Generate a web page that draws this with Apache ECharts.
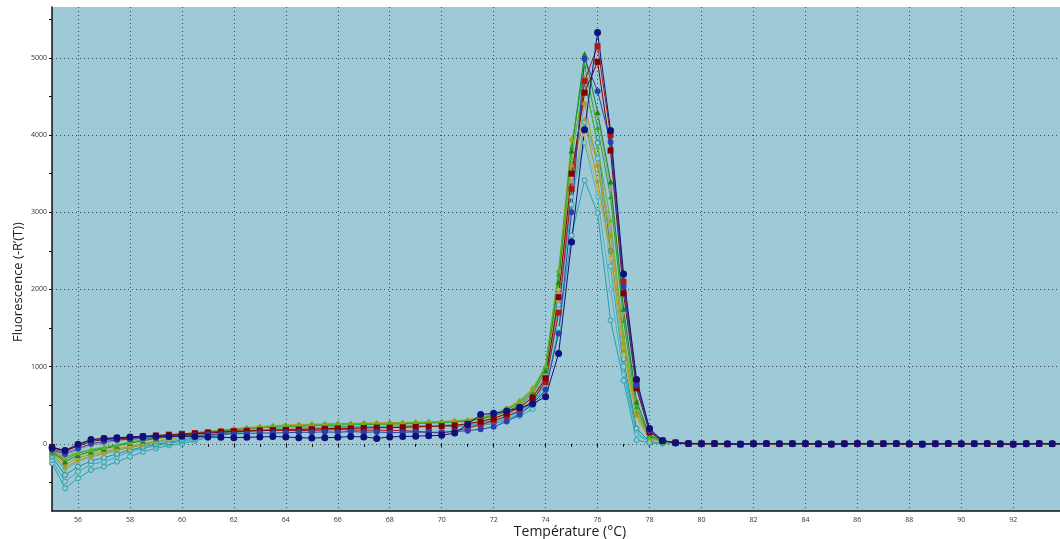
<!DOCTYPE html>
<html>
<head>
<meta charset="utf-8">
<script src="https://cdn.jsdelivr.net/npm/echarts@6/dist/echarts.min.js"></script>
<style>
html,body{margin:0;padding:0;background:#fff;}
#c{width:1060px;height:539px;}
</style>
</head>
<body>
<div id="c"></div>
<script>
// Temperatures (°C), one reading every 0.5 °C
const temps = [55,55.5,56,56.5,57,57.5,58,58.5,59,59.5,
  60,60.5,61,61.5,62,62.5,63,63.5,64,64.5,
  65,65.5,66,66.5,67,67.5,68,68.5,69,69.5,
  70,70.5,71,71.5,72,72.5,73,73.5,74,74.5,
  75,75.5,76,76.5,77,77.5,78,78.5,79,79.5,
  80,80.5,81,81.5,82,82.5,83,83.5,84,84.5,
  85,85.5,86,86.5,87,87.5,88,88.5,89,89.5,
  90,90.5,91,91.5,92,92.5,93,93.5,94];

const xLabels = [56,58,60,62,64,66,68,70,72,74,76,78,80,82,84,86,88,90,92];
const xTicks = [56,57,58,59,60,61,62,63,64,65,66,67,68,69,70,71,72,73,74,75,76,77,78,79,80,81,82,83,84,85,86,87,88,89,90,91,92,93];
const yLabels = [0,1000,2000,3000,4000,5000];
const yTicks = [-500,0,500,1000,1500,2000,2500,3000,3500,4000,4500,5000,5500];

// Melt curves -R'(T)
const teal1 = [-253,-576,-447,-339,-296,-231,-167,-102,-60,-20,
  0,40,80,110,140,160,175,185,195,200,
  205,210,210,215,215,220,220,220,225,225,
  225,225,230,240,260,300,360,450,700,1500,
  2700,3414,2990,1600,820,50,10,5,0,5,
  0,-5,0,5,0,0,5,0,-5,0,5,0,0,5,0,-5,0,5,0,0,5,0,-5,0,5,0,0,5,0];
const teal2 = [-210,-490,-361,-266,-231,-167,-102,-60,-25,5,
  30,60,95,125,150,165,180,190,195,200,
  205,210,215,215,220,220,225,225,230,230,
  230,235,240,255,280,320,390,500,780,1700,
  3100,4170,3700,2300,1000,150,20,10,5,0,
  5,0,-5,0,5,0,0,5,0,-5,0,5,0,0,5,0,-5,0,5,0,0,5,0,-5,0,5,0,0,5];
const teal3 = [-167,-404,-296,-223,-180,-130,-80,-40,-5,20,
  50,80,110,135,155,170,180,190,200,205,
  210,215,220,220,225,225,230,230,235,235,
  240,245,250,270,300,350,420,540,850,1800,
  3300,4700,3900,2500,1100,200,30,10,5,0,
  0,5,0,-5,0,5,0,0,5,0,-5,0,5,0,0,5,0,-5,0,5,0,0,5,0,-5,0,5,0,0];
const cyan1 = [-150,-330,-230,-170,-130,-90,-50,-15,15,40,
  65,90,115,135,155,170,180,190,195,200,
  205,210,210,215,220,220,225,225,230,230,
  235,240,250,265,290,340,410,520,820,1750,
  3200,3900,3200,2000,900,120,20,10,5,0,
  5,0,0,-5,0,5,0,5,0,0,-5,0,5,0,0,5,0,0,-5,0,5,0,0,5,0,0,-5,0,5];
const gray1 = [-100,-188,-80,-15,6,36,60,80,100,115,
  130,145,155,165,175,180,185,190,195,200,
  205,205,210,210,215,215,220,220,225,230,
  235,245,260,290,330,400,480,620,900,1950,
  3400,4400,4260,3300,1700,560,110,35,10,5,
  0,5,0,-5,0,5,0,0,5,0,-5,0,5,0,0,5,0,-5,0,5,0,0,5,0,-5,0,5,0,0];
const gray2 = [-90,-160,-70,-10,20,45,65,85,100,115,
  125,140,150,160,170,175,180,185,190,195,
  200,200,205,205,210,210,215,215,220,225,
  230,240,255,280,320,390,470,600,880,1850,
  3300,4100,3650,2800,1400,430,80,30,10,5,
  5,0,5,0,-5,0,5,0,0,5,0,-5,0,5,0,0,5,0,-5,0,5,0,0,5,0,-5,0,5,0];
const olive1 = [-125,-310,-210,-165,-120,-80,-50,-10,30,60,
  90,120,150,175,195,210,225,235,245,250,
  255,260,265,265,270,270,275,275,280,285,
  290,300,310,340,390,460,560,720,1000,2230,
  3940,4410,3600,2700,1300,380,70,25,10,5,
  0,5,0,0,-5,0,5,0,0,5,0,-5,0,5,0,5,0,0,-5,0,5,0,0,5,0,-5,0,5,0];
const olive2 = [-110,-270,-180,-140,-100,-65,-35,0,35,65,
  95,125,150,170,190,205,215,225,235,240,
  245,250,255,255,260,260,265,270,270,275,
  280,290,300,330,380,450,540,700,980,2100,
  3600,4200,3400,2500,1200,340,60,25,10,5,
  5,0,-5,0,5,0,0,5,0,-5,0,5,0,0,5,0,-5,0,5,0,0,5,0,-5,0,5,0,0,5];
const khaki1 = [-100,-240,-160,-120,-85,-50,-20,15,45,70,
  100,125,150,170,185,200,210,220,225,230,
  235,240,240,245,245,250,250,255,260,265,
  270,280,290,320,370,440,520,680,950,2000,
  3450,4000,3300,2400,1150,320,60,25,10,5,
  0,0,5,0,-5,0,5,0,0,5,0,-5,0,5,0,0,5,0,-5,0,5,0,0,5,0,-5,0,5,0];
const green1 = [-100,-230,-145,-100,-65,-25,10,40,70,90,
  110,130,150,170,185,200,210,220,230,235,
  240,245,250,255,255,260,265,265,270,275,
  280,290,300,320,360,420,500,650,950,2100,
  3800,5050,4300,3400,1750,550,110,35,10,5,
  0,5,0,-5,0,5,0,0,5,0,-5,0,5,0,0,5,0,-5,0,5,0,0,5,0,-5,0,5,0,0];
const green2 = [-120,-200,-120,-80,-50,-15,20,50,80,100,
  120,140,160,175,190,200,210,215,225,230,
  235,240,245,250,250,255,255,260,265,270,
  275,285,300,330,370,440,530,680,1000,2200,
  3850,4900,4100,3200,1600,480,90,30,10,5,
  5,0,-5,0,5,0,0,5,0,-5,0,5,0,0,5,0,-5,0,5,0,0,5,0,-5,0,5,0,0,5];
const lime1 = [-90,-180,-110,-70,-40,-10,25,55,80,105,
  125,145,165,180,195,205,215,225,230,240,
  245,250,250,255,260,265,265,270,275,280,
  285,295,310,340,380,450,550,700,1020,2250,
  3700,4750,3850,2900,1400,420,80,30,10,5,
  0,5,0,0,-5,0,5,0,5,0,0,-5,0,5,0,0,5,0,-5,0,5,0,0,5,0,-5,0,5,0];
const red1 = [-60,-110,-15,50,70,78,85,100,110,120,
  130,140,150,160,165,170,175,180,175,170,
  175,180,185,180,175,180,170,175,160,150,
  140,170,200,250,300,360,430,560,800,1700,
  3300,4700,5150,4000,2100,800,170,45,15,5,
  0,5,0,-5,0,5,0,0,5,0,-5,0,5,0,0,5,0,-5,0,5,0,0,5,0,-5,0,5,0,0];
const red2 = [-40,-90,-30,30,55,65,75,90,100,110,
  120,130,140,150,160,165,170,175,180,185,
  190,195,200,200,205,210,210,215,220,225,
  230,240,260,290,330,390,470,600,850,1900,
  3500,4550,4950,3800,1950,720,150,40,15,5,
  5,0,-5,0,5,0,0,5,0,-5,0,5,0,0,5,0,-5,0,5,0,0,5,0,-5,0,5,0,0,5];
const blue1 = [-80,-130,-60,0,30,50,60,70,80,90,
  100,110,120,125,130,135,140,140,145,150,
  150,155,150,160,150,155,145,150,155,150,
  150,160,170,190,220,290,380,520,700,1430,
  3000,4990,4570,3910,2034,760,170,40,15,5,
  0,5,0,0,-5,0,5,0,0,5,0,-5,0,5,0,0,5,0,-5,0,5,0,0,5,0,-5,0,5,0];
const navy1 = [-50,-85,-5,55,70,78,90,95,100,98,
  100,95,90,85,80,85,88,95,90,80,
  75,80,85,95,90,70,90,95,100,105,
  110,140,250,380,395,425,470,520,610,1170,
  2615,4070,5330,4060,2200,835,200,40,15,5,
  0,5,0,-5,0,5,0,0,5,0,-5,0,5,0,0,5,0,-5,0,5,0,0,5,0,-5,0,5,0,0];

const BG = '#9ecad8';

function mk(name, vals, color, symbol, size, hollow) {
  return {
    name: name,
    type: 'line',
    data: temps.map((t, i) => [t, vals[i]]),
    symbol: symbol,
    symbolSize: size,
    showSymbol: true,
    clip: true,
    animation: false,
    lineStyle: { color: color, width: 1 },
    itemStyle: hollow ? { color: BG, borderColor: color, borderWidth: 1 } : { color: color, borderWidth: 0 },
    emphasis: { disabled: true }
  };
}

const series = [
  mk('A1', teal1, '#2a9fa5', 'circle', 5, true),
  mk('A2', teal2, '#33a8b8', 'circle', 5, true),
  mk('A3', teal3, '#1f8f8f', 'circle', 5, true),
  mk('A4', cyan1, '#48b4c4', 'circle', 4, true),
  mk('B1', gray1, '#9a9a9a', 'diamond', 6, false),
  mk('B2', gray2, '#b09a9a', 'diamond', 5, false),
  mk('C1', olive1, '#b89a10', 'diamond', 6, false),
  mk('C2', olive2, '#a09a2a', 'diamond', 5, false),
  mk('C3', khaki1, '#c8b45a', 'diamond', 5, false),
  mk('D1', green1, '#158a15', 'triangle', 6, false),
  mk('D2', green2, '#2e9e2e', 'triangle', 5, false),
  mk('D3', lime1, '#5cb82e', 'triangle', 5, false),
  mk('E1', red1, '#b01818', 'rect', 6, false),
  mk('E2', red2, '#800000', 'rect', 6, false),
  mk('F1', blue1, '#2a40b0', 'circle', 6, false),
  mk('F2', navy1, '#10107a', 'circle', 7, false)
];

const chart = echarts.init(document.getElementById('c'), null, { renderer: 'canvas' });
const labelStyle = { fontSize: 7, color: '#333', fontFamily: 'Open Sans', formatter: v => String(v) };
const gridLine = { show: true, showMinLine: false, showMaxLine: false, lineStyle: { color: '#3d4a50', type: [1, 3], width: 1 } };

chart.setOption({
  animation: false,
  backgroundColor: '#ffffff',
  grid: { left: 52, right: 0, top: 7, bottom: 28, show: true, backgroundColor: BG, borderWidth: 0, outerBoundsMode: 'none', containLabel: false },
  xAxis: [
    {
      type: 'value', min: 55, max: 93.8, splitNumber: 19,
      name: 'Température (°C)', nameLocation: 'middle', nameGap: 14, nameMoveOverlap: false,
      nameTextStyle: { fontSize: 14, color: '#1a1a1a', fontFamily: 'Open Sans', padding: [0, 0, 0, 28] },
      axisLine: { show: true, onZero: false, lineStyle: { color: '#111', width: 1.5 } },
      axisTick: { show: false },
      axisLabel: { show: true, customValues: xLabels, margin: 5, ...labelStyle },
      splitLine: gridLine
    },
    {
      type: 'value', min: 55, max: 93.8, position: 'bottom',
      axisLine: { show: false },
      axisLabel: { show: false },
      splitLine: { show: false },
      axisTick: { show: true, customValues: xTicks, length: 3, lineStyle: { color: '#111' } }
    }
  ],
  yAxis: [
    {
      type: 'value', min: -870, max: 5660, splitNumber: 6,
      name: 'Fluorescence (-R’(T))', nameLocation: 'middle', nameGap: 27, nameMoveOverlap: false,
      nameTextStyle: { fontSize: 13, color: '#1a1a1a', fontFamily: 'Open Sans', padding: [0, 46, 0, 0] },
      axisLine: { show: true, onZero: false, lineStyle: { color: '#111', width: 1.5 } },
      axisTick: { show: false },
      axisLabel: { show: true, customValues: yLabels, margin: 5, ...labelStyle },
      splitLine: gridLine
    },
    {
      type: 'value', min: -870, max: 5660, position: 'left',
      axisLine: { show: false },
      axisLabel: { show: false },
      splitLine: { show: false },
      axisTick: { show: true, customValues: yTicks, length: 3, lineStyle: { color: '#111' } }
    }
  ],
  series: series
});
</script>
</body>
</html>
